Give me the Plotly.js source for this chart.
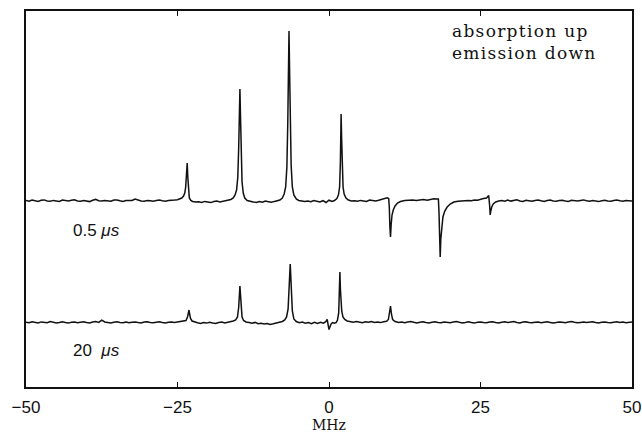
<!DOCTYPE html>
<html><head><meta charset="utf-8">
<script src="https://cdn.plot.ly/plotly-3.0.1.min.js"></script>
<style>html,body{margin:0;padding:0;background:#fff}#chart{width:642px;height:434px}
g.annotation[data-index="0"] text{letter-spacing:1.3px}</style>
</head><body><div id="chart"></div>
<script>
// x axis: frequency offset in MHz; y: signal (arbitrary units, traces offset vertically)
const xTickVals = [-50, -25, 0, 25, 50];
const xTickText = ['\u221250', '\u221225', '0', '25', '50'];
const traceLabels = ['0.5&nbsp;<i>\u03bcs</i>', '20&nbsp;&nbsp;<i>\u03bcs</i>'];
const noteText = 'absorption up<br>emission down';

// spectrum recorded at 0.5 us
const topX = [
 -50,-49.5,-49,-48.5,-48,-47.5,-47,-46.5,-46,-45.5,-45,-44.5,-44,-43.5,-43,-42.5,-42,-41.5,-41,-40.5,
 -40,-39.5,-39,-38.5,-38,-37.5,-37,-36.5,-36,-35.5,-35,-34.5,-34,-33.5,-33,-32.5,-32,-31.5,-31,-30.5,
 -30,-29.5,-29,-28.5,-28,-27.5,-27,-26.5,-26,-25.5,
 -25,-24.6,-24.3,-24.0,-23.8,-23.65,-23.5,-23.4,-23.3,-23.2,-23.05,-22.8,-22.5,-22.0,
 -21.5,-21,-20.5,-20,-19.5,-19,-18.5,-18,-17.5,-17,-16.5,
 -16.2,-15.8,-15.5,-15.25,-15.05,-14.9,-14.8,-14.7,-14.6,-14.5,-14.35,-14.15,-13.9,-13.5,-13.0,
 -12.5,-12,-11.5,-11,-10.5,-10,-9.5,-9,-8.5,
 -8.1,-7.7,-7.4,-7.15,-6.95,-6.8,-6.7,-6.6,-6.5,-6.4,-6.25,-6.05,-5.8,-5.4,-5.0,
 -4.5,-4,-3.5,-3,-2.5,-2,-1.5,-1,-0.5,0,0.5,
 0.9,1.3,1.55,1.75,1.88,1.95,2.0,2.08,2.18,2.32,2.5,2.8,3.2,3.7,
 4.2,4.7,5.2,5.7,6.2,6.7,7.2,7.7,8.2,8.7,9.2,9.6,
 9.85,9.95,10.05,10.15,10.25,10.4,10.6,10.9,11.3,11.8,12.5,13.2,
 13.8,14.4,15,15.6,16.2,16.8,17.3,17.8,
 18.05,18.15,18.25,18.35,18.45,18.6,18.8,19.1,19.5,20.0,20.6,21.3,
 22,22.5,23,23.5,24,24.5,25,25.5,26,
 26.35,26.5,26.6,26.7,26.85,27.1,27.5,28.0,
 28.5,29,29.5,30,30.5,31,31.5,32,32.5,33,33.5,34,34.5,35,35.5,36,36.5,37,37.5,38,
 38.5,39,39.5,40,40.5,41,41.5,42,42.5,43,43.5,44,44.5,45,45.5,46,46.5,47,47.5,48,
 48.5,49,49.5,50
];
const topY = [
 186.5,185.8,186.9,186.2,185.6,186.8,187.1,186.0,185.7,186.6,186.3,185.5,186.9,186.4,185.9,186.7,187.3,186.1,185.8,186.5,
 186.2,185.4,186.8,187.6,186.3,185.9,186.6,186.0,185.7,186.9,187.0,186.2,185.6,186.4,186.4,186.5,188.0,186.7,186.1,185.8,
 186.6,186.3,185.7,186.5,186.9,186.2,185.8,186.6,186.4,186.9,
 187.2,187.8,189.0,191.0,194.0,200,212,224,210,196,189,186.5,185.5,185.0,
 185.3,184.6,185.6,185.0,184.4,185.4,185.9,185.1,185.7,186.3,186.8,
 187.5,189,192,197,210,240,275,298,270,232,205,194,189,186.5,185.5,
 185.0,184.6,185.5,184.8,185.9,185.3,184.7,185.6,186.2,
 187,189,193,200,220,265,320,356,315,262,222,200,192,188,186.5,
 186.0,185.4,185.9,185.2,186.4,185.7,185.1,186.3,184.5,186.8,185.6,
 186.5,188.5,192,200,225,255,273,250,220,200,193,189,187,186,
 186.2,185.7,186.6,186.1,185.5,186.9,186.3,186.0,186.7,187.6,188.6,189.2,
 188.5,180,160,150,162,172,177,181,184,185.5,186.5,186.8,
 187.1,186.4,186.9,187.5,186.8,187.6,188.2,187.9,
 188,175,145,130,148,162,170,176,180,183,185,185.8,
 186.2,185.9,186.6,186.3,187.0,186.8,187.9,188.4,189.0,
 191.5,182,172,176,180,183,185,186,
 186.4,185.7,186.9,185.9,186.5,187.2,186.1,185.6,186.8,186.3,185.8,186.6,187.0,186.2,185.5,186.4,186.9,186.0,185.7,186.5,
 186.8,186.1,185.6,186.7,186.3,185.9,186.6,187.1,186.2,185.8,186.5,186.0,185.4,186.3,186.8,186.1,185.7,186.4,186.9,186.2,
 185.8,186.5,186.3,186.0
];

// spectrum recorded at 20 us
const botX = [
 -50,-49.5,-49,-48.5,-48,-47.5,-47,-46.5,-46,-45.5,-45,-44.5,-44,-43.5,-43,-42.5,-42,-41.5,-41,-40.5,
 -40,-39.5,-39,-38.5,-38,-37.5,-37,-36.5,-36,-35.5,-35,-34.5,-34,-33.5,-33,-32.5,-32,-31.5,-31,-30.5,
 -30,-29.5,-29,-28.5,-28,-27.5,-27,-26.5,-26,-25.5,-25,-24.5,-24,
 -23.6,-23.35,-23.2,-23.1,-23.0,-22.85,-22.6,-22.2,
 -21.7,-21.2,-20.7,-20.2,-19.7,-19.2,-18.7,-18.2,-17.7,-17.2,-16.7,-16.2,-15.8,
 -15.4,-15.1,-14.9,-14.8,-14.7,-14.6,-14.5,-14.35,-14.1,-13.7,
 -13.2,-12.7,-12.2,-11.7,-11.2,-10.7,-10.2,-9.7,-9.2,-8.7,-8.2,-7.7,
 -7.3,-7.0,-6.75,-6.6,-6.5,-6.4,-6.3,-6.2,-6.05,-5.8,-5.4,
 -4.9,-4.4,-3.9,-3.4,-2.9,-2.4,-1.9,-1.4,-0.9,-0.5,
 -0.3,-0.15,0.0,0.15,0.35,0.6,0.9,1.2,
 1.4,1.6,1.72,1.8,1.88,1.98,2.1,2.3,2.6,3.0,
 3.5,4.0,4.5,5.0,5.5,6.0,6.5,7.0,7.5,8.0,8.5,9.0,9.5,
 9.8,9.95,10.05,10.15,10.3,10.5,10.9,
 11.5,12,12.5,13,13.5,14,14.5,15,15.5,16,16.5,17,17.5,18,18.5,19,19.5,20,20.5,21,
 21.5,22,22.5,23,23.5,24,24.5,25,25.5,26,26.5,27,27.5,28,28.5,29,29.5,30,30.5,31,
 31.5,32,32.5,33,33.5,34,34.5,35,35.5,36,36.5,37,37.5,38,38.5,39,39.5,40,40.5,41,
 41.5,42,42.5,43,43.5,44,44.5,45,45.5,46,46.5,47,47.5,48,48.5,49,49.5,50
];
const botY = [
 64.8,64.2,65.3,64.6,64.0,65.1,64.7,64.3,65.4,64.9,64.1,64.6,65.2,64.4,63.9,64.8,65.0,64.3,64.7,65.3,
 64.5,64.0,64.9,65.4,64.6,66.8,65.0,64.7,64.1,64.8,65.2,64.5,64.2,64.9,64.3,64.7,65.1,64.4,64.0,64.9,
 65.3,64.6,64.2,64.8,65.2,64.5,64.1,64.7,65.0,64.4,64.9,65.3,65.8,
 66.5,70,74.5,77,73,68.5,66,65,
 64.2,63.6,64.5,63.9,64.8,64.1,63.5,64.4,64.9,64.0,64.6,65.2,66.0,
 67,70,80,93,101,92,78,70,66.5,65,
 64.4,63.8,64.6,63.2,63.7,62.9,63.5,62.6,63.2,63.8,64.4,65.5,
 67,70,78,95,112,123,110,92,76,68,65.5,
 64.2,64.9,63.8,64.5,63.4,64.7,63.6,64.8,63.9,65.5,
 67.5,63,57.5,60,63,64.5,63.8,64.5,
 67,74,95,115,98,86,76,70,67.5,66,
 65.4,64.8,65.6,64.9,64.3,65.2,64.7,65.5,64.6,65.0,64.4,65.3,65.8,
 67.5,74,80,81,73,67.5,65.5,
 64.6,65.1,64.3,64.9,65.4,64.7,64.1,64.8,65.2,64.5,64.0,64.7,65.3,64.6,64.2,65.0,64.8,64.3,64.9,65.5,
 64.7,64.1,64.6,65.2,64.4,63.9,64.8,65.1,64.5,64.2,64.9,65.3,64.6,64.0,64.7,65.2,64.4,64.8,65.4,64.6,
 64.1,64.9,65.3,64.5,64.2,64.8,65.0,64.3,64.7,65.2,64.6,64.0,64.5,65.1,64.8,64.3,64.9,65.4,64.7,64.2,
 64.6,65.0,64.4,64.9,65.3,64.5,64.1,64.7,65.1,64.6,64.2,64.8,65.2,64.5,64.9,64.3,64.7,65.0
];

const lineStyle = {color: '#111', width: 1.5};
const data = [
  {x: topX, y: topY, type: 'scatter', mode: 'lines', line: lineStyle, hoverinfo: 'skip'},
  {x: botX, y: botY, type: 'scatter', mode: 'lines', line: lineStyle, hoverinfo: 'skip'}
];

const layout = {
  width: 642, height: 434,
  margin: {l: 26, r: 10, t: 11, b: 47},
  paper_bgcolor: '#fff', plot_bgcolor: '#fff',
  showlegend: false,
  xaxis: {
    range: [-50, 50], tickvals: xTickVals, ticktext: xTickText,
    ticks: 'inside', ticklen: 5, tickwidth: 1, tickcolor: '#111',
    showline: true, linecolor: '#111', linewidth: 1.8, mirror: 'ticks',
    showgrid: false, zeroline: false, ticklabelstandoff: 4,
    tickfont: {family: 'Liberation Sans, Arial, sans-serif', size: 17, color: '#111'},
    title: {text: 'MHz', standoff: 1, font: {family: 'DejaVu Serif, serif', size: 14, color: '#111'}}
  },
  yaxis: {
    range: [0, 376], showticklabels: false, ticks: '',
    showline: true, linecolor: '#111', linewidth: 1.8, mirror: true,
    showgrid: false, zeroline: false
  },
  annotations: [
    {xref: 'paper', yref: 'paper', x: 0.70, y: 0.98, xanchor: 'left', yanchor: 'top', align: 'left',
     text: noteText, showarrow: false,
     font: {family: 'DejaVu Serif, serif', size: 17, color: '#111'}},
    {xref: 'x', yref: 'y', x: -42.6, y: 157, xanchor: 'left', yanchor: 'middle',
     text: traceLabels[0], showarrow: false,
     font: {family: 'Liberation Sans, Arial, sans-serif', size: 17, color: '#111'}},
    {xref: 'x', yref: 'y', x: -42.6, y: 37, xanchor: 'left', yanchor: 'middle',
     text: traceLabels[1], showarrow: false,
     font: {family: 'Liberation Sans, Arial, sans-serif', size: 17, color: '#111'}}
  ]
};

Plotly.newPlot('chart', data, layout, {displayModeBar: false, staticPlot: true});
</script>
</body></html>
